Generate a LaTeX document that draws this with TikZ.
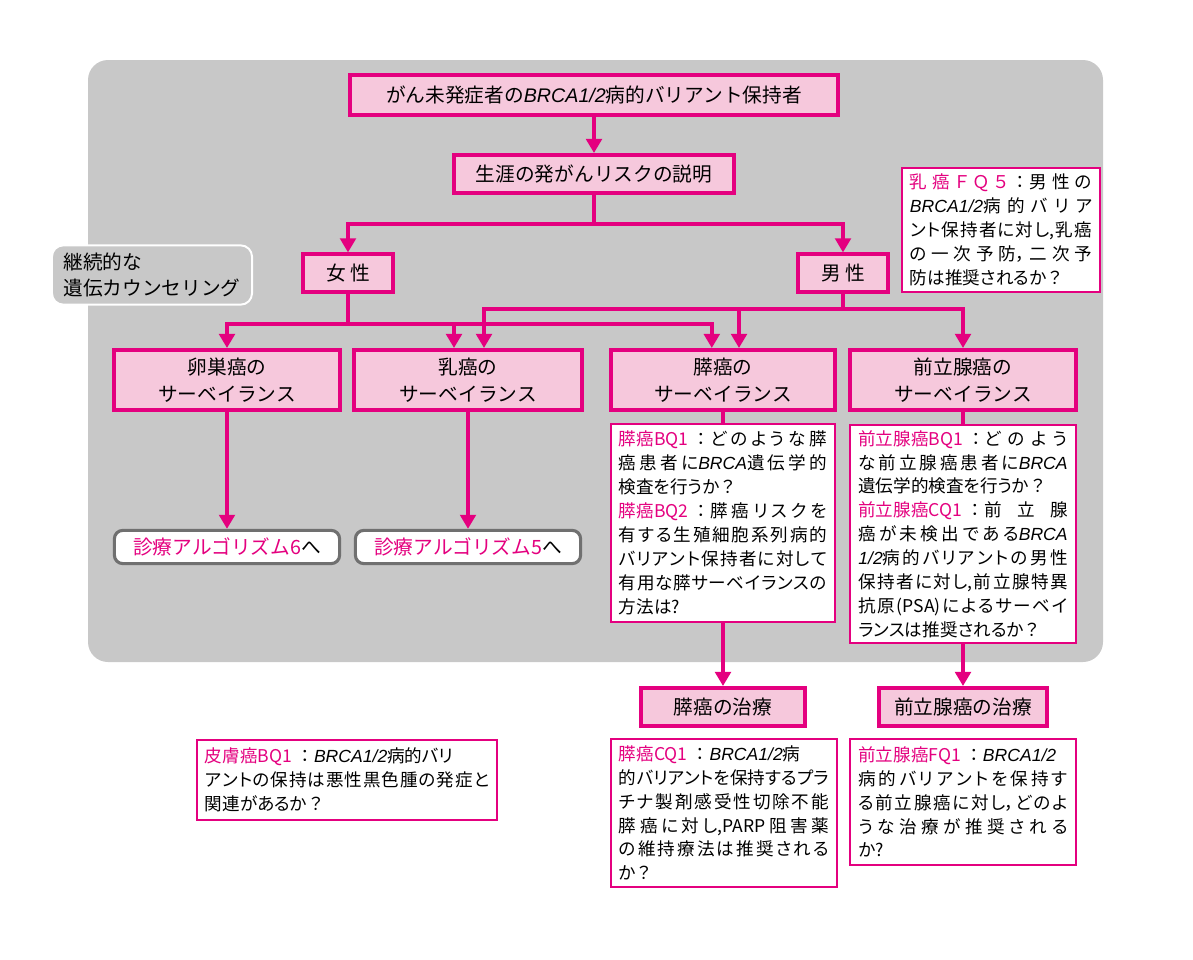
\documentclass[tikz,border=0pt]{standalone}
\usepackage{fontspec}
\setmainfont{Noto Sans CJK JP}
\newfontfamily\qfont{Noto Sans CJK JP}[RawFeature=+palt]
\newfontfamily\latinfont{Liberation Sans}
\usetikzlibrary{arrows.meta}
\definecolor{mag}{HTML}{E4007F}
\definecolor{pinkfill}{HTML}{F6C8DC}
\definecolor{bggray}{HTML}{C8C8C8}
\definecolor{boxgray}{HTML}{707070}
\newcommand{\brca}[1]{{\latinfont\itshape #1}}
\newcommand{\qlab}[1]{\textcolor{mag}{\mbox{#1}}}
\newcommand{\qlabspread}[1]{\textcolor{mag}{#1}}
\newcommand{\qc}{\mbox{\hspace{0.25em}\normalfont ：}}
\newcommand{\qm}{{\normalfont ？}}
\XeTeXlinebreaklocale "ja"
\XeTeXlinebreakskip=0pt plus 4pt
\tolerance=9999
\hbadness=10000

\tikzset{
  mainbox/.style={draw=mag, fill=pinkfill, line width=2.8pt, align=center,
    inner sep=0pt, font=\fontsize{14}{19}\selectfont},
  qbox/.style={draw=mag, fill=white, line width=1.4pt, align=justify,
    inner xsep=0.2cm, inner ysep=2pt, font=\qfont\fontsize{12.5}{17}\selectfont},
  algobox/.style={draw=boxgray, fill=white, line width=2.2pt, rounded corners=6pt,
    inner sep=0pt, minimum width=5.63cm, minimum height=0.83cm,
    font=\fontsize{14}{19}\selectfont},
  carebox/.style={draw=white, fill=bggray, line width=1.4pt, rounded corners=8pt,
    align=left, inner sep=0pt, font=\fontsize{14}{19}\selectfont},
  lnk/.style={draw=mag, line width=2.8pt},
  arr/.style={lnk, -{Triangle[width=11pt,length=10pt]}}
}

\begin{document}
\begin{tikzpicture}[x=0.025cm, y=-0.025cm]
\useasboundingbox (0,0) rectangle (1193,960);
\fill[bggray, rounded corners=0.5cm] (88,60) rectangle (1103,662);

% top of the chart
\node[mainbox, minimum width=12.2cm, minimum height=1cm] (carrier) at (594,95)
  {がん未発症者の\brca{BRCA1/2}病的バリアント保持者};
\node[mainbox, minimum width=7cm, minimum height=0.95cm] (risk) at (594,174)
  {生涯の発がんリスクの説明};
\node[mainbox, minimum width=2.25cm, minimum height=0.93cm] (female) at (348,273) {女\ 性};
\node[mainbox, minimum width=2.25cm, minimum height=0.93cm] (male) at (843,273) {男\ 性};
\node[carebox, minimum width=5cm, minimum height=1.48cm] (care) at (152,275)
  {継続的な\\遺伝カウンセリング};
\node[qbox, text width=4.55cm, minimum height=3.1cm] (fqfive) at (1001,230)
  {\qlabspread{乳癌ＦＱ５}\qc 男性の\linebreak
   \brca{BRCA1/2}病的バリア\linebreak
   ント保持者に対し,乳癌\linebreak
   の一次予防，二次予\linebreak
   防は推奨されるか\qm};

% surveillance row
\node[mainbox, minimum width=5.63cm, minimum height=1.5cm] (ovary) at (227,380)
  {卵巣癌の\\サーベイランス};
\node[mainbox, minimum width=5.7cm, minimum height=1.5cm] (breast) at (468,380)
  {乳癌の\\サーベイランス};
\node[mainbox, minimum width=5.6cm, minimum height=1.5cm] (panc) at (723,380)
  {膵癌の\\サーベイランス};
\node[mainbox, minimum width=5.63cm, minimum height=1.5cm] (prost) at (963,380)
  {前立腺癌の\\サーベイランス};

\node[algobox] (algosix) at (227,547) {\qlab{診療アルゴリズム6}へ};
\node[algobox] (algofive) at (468,547) {\qlab{診療アルゴリズム5}へ};

\node[qbox, text width=5.2cm, minimum height=4.93cm] (pancbq) at (723,523)
  {\qlab{膵癌BQ1}\qc どのような膵\linebreak
   癌患者に\brca{BRCA}遺伝学的\linebreak
   検査を行うか\qm\\
   \qlab{膵癌BQ2}\qc 膵癌リスクを\linebreak
   有する生殖細胞系列病的\linebreak
   バリアント保持者に対して\linebreak
   有用な膵サーベイランスの\linebreak
   方法は?};
\node[qbox, text width=5.23cm, minimum height=5.45cm] (prostbq) at (963,534)
  {\qlab{前立腺癌BQ1}\qc どのよう\linebreak
   な前立腺癌患者に\brca{BRCA}\linebreak
   遺伝学的検査を行うか\qm\\
   \qlab{前立腺癌CQ1}\qc 前立腺\linebreak
   癌が未検出である\brca{BRCA}\linebreak
   \brca{1/2}病的バリアントの男性\linebreak
   保持者に対し,前立腺特異\linebreak
   抗原(PSA)によるサーベイ\linebreak
   ランスは推奨されるか\qm};

% treatment
\node[mainbox, minimum width=4.1cm, minimum height=0.95cm] (panctx) at (723,707) {膵癌の治療};
\node[mainbox, minimum width=4.2cm, minimum height=0.95cm] (prosttx) at (963,707) {前立腺癌の治療};

\node[qbox, text width=5.25cm, minimum height=3.68cm] (panccq) at (724,813)
  {\qlab{膵癌CQ1}\qc\brca{BRCA1/2}病\\
   的バリアントを保持するプラ\linebreak
   チナ製剤感受性切除不能\linebreak
   膵癌に対し,PARP阻害薬\linebreak
   の維持療法は推奨される\linebreak
   か\qm};
\node[qbox, text width=5.23cm, minimum height=3.13cm] (prostfq) at (963,802)
  {\qlab{前立腺癌FQ1}\qc\brca{BRCA1/2}\\
   病的バリアントを保持す\linebreak
   る前立腺癌に対し，どのよ\linebreak
   うな治療が推奨される\linebreak
   か?};
\node[qbox, text width=7.1cm, minimum height=2cm] (skinbq) at (347,780)
  {\qlab{皮膚癌BQ1}\qc\brca{BRCA1/2}病的バリ\\
   アントの保持は悪性黒色腫の発症と\linebreak
   関連があるか\qm};

% connectors
\draw[arr] (carrier) -- (risk);
\draw[lnk] (risk.south) -- ++(0,29) coordinate (riskfork);
\draw[arr] (riskfork) -| (female.north);
\draw[arr] (riskfork) -| (male.north);

\draw[lnk] (female.south) -- ++(0,30) coordinate (femfork);
\draw[arr] (femfork) -| (ovary.north);
\draw[arr] (femfork) -| ([xshift=-0.35cm]breast.north);
\draw[arr] (femfork) -| ([xshift=-0.28cm]panc.north);

\draw[lnk] (male.south) -- ++(0,15) coordinate (malefork);
\draw[arr] (malefork) -| ([xshift=0.4cm]breast.north);
\draw[arr] (malefork) -| ([xshift=0.4cm]panc.north);
\draw[arr] (malefork) -| (prost.north);

\draw[arr] (ovary) -- (algosix);
\draw[arr] (breast) -- (algofive);
\draw[lnk] (panc) -- (pancbq);
\draw[arr] (pancbq) -- (panctx);
\draw[lnk] (prost) -- (prostbq);
\draw[arr] (prostbq) -- (prosttx);
\end{tikzpicture}
\end{document}
